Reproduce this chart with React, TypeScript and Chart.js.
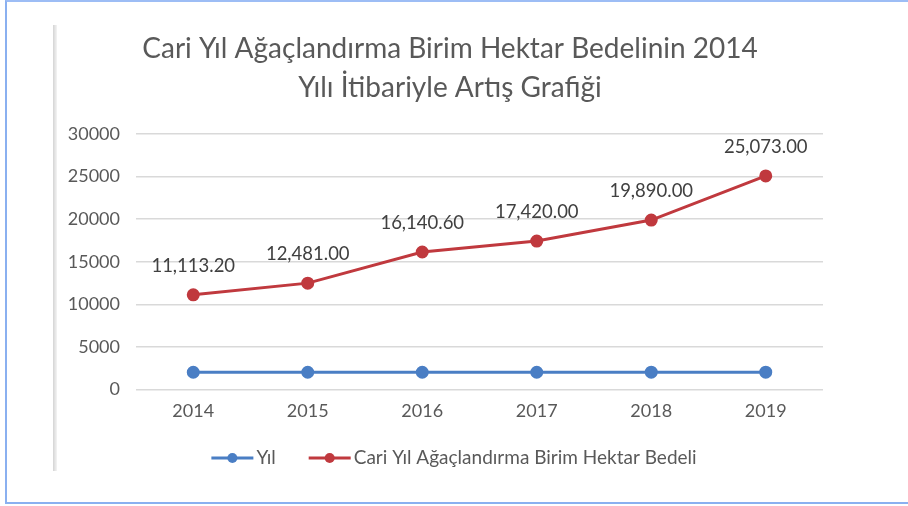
import React, { useEffect, useRef } from 'react';
import { Chart, registerables } from 'chart.js';

Chart.register(...registerables);

const years = ['2014', '2015', '2016', '2017', '2018', '2019'];
const yilValues = [2014, 2015, 2016, 2017, 2018, 2019];
const bedelValues = [11113.2, 12481.0, 16140.6, 17420.0, 19890.0, 25073.0];
const yMin = 0;
const yMax = 30000;
const yStep = 5000;
const titleLines = ['Cari Yıl Ağaçlandırma Birim Hektar Bedelinin 2014', 'Yılı İtibariyle Artış Grafiği'];
const seriesNames = ['Yıl', 'Cari Yıl Ağaçlandırma Birim Hektar Bedeli'];
const seriesColors = ['#4A7EC4', '#C0393E'];

const FONT = 'Lato, "Liberation Sans", sans-serif';
const TEXT = '#595959';

const fmt = (v: number) =>
  v.toLocaleString('en-US', { minimumFractionDigits: 2, maximumFractionDigits: 2 });

const titlePlugin = {
  id: 'customTitle',
  afterDraw(chart: any) {
    const ctx = chart.ctx;
    ctx.save();
    ctx.font = `28px ${FONT}`;
    ctx.fillStyle = TEXT;
    ctx.textAlign = 'center';
    ctx.textBaseline = 'middle';
    const cx = 450;
    titleLines.forEach((t, i) => ctx.fillText(t, cx, 49 + i * 39));
    ctx.restore();
  },
};

const dataLabelPlugin = {
  id: 'dataLabels',
  afterDatasetsDraw(chart: any) {
    const ctx = chart.ctx;
    const meta = chart.getDatasetMeta(1);
    ctx.save();
    ctx.font = `18.5px ${FONT}`;
    ctx.fillStyle = '#404040';
    ctx.textAlign = 'center';
    ctx.textBaseline = 'middle';
    meta.data.forEach((pt: any, i: number) => {
      ctx.fillText(fmt(bedelValues[i]), pt.x, pt.y - 29);
    });
    ctx.restore();
  },
};

const legendPlugin = {
  id: 'customLegend',
  afterDraw(chart: any) {
    const ctx = chart.ctx;
    ctx.save();
    ctx.font = `19px ${FONT}`;
    const lineW = 42;
    const gapText = 3;
    const gapItem = 33;
    const widths = seriesNames.map((n) => lineW + gapText + ctx.measureText(n).width);
    const total = widths.reduce((a, b) => a + b, 0) + gapItem * (seriesNames.length - 1);
    let x = chart.width / 2 - total / 2;
    const y = 458;
    seriesNames.forEach((n, i) => {
      ctx.strokeStyle = seriesColors[i];
      ctx.lineWidth = 3;
      ctx.beginPath();
      ctx.moveTo(x, y);
      ctx.lineTo(x + lineW, y);
      ctx.stroke();
      ctx.fillStyle = seriesColors[i];
      ctx.beginPath();
      ctx.arc(x + lineW / 2, y, 5, 0, Math.PI * 2);
      ctx.fill();
      ctx.fillStyle = TEXT;
      ctx.textAlign = 'left';
      ctx.textBaseline = 'middle';
      ctx.fillText(n, x + lineW + gapText, y);
      x += widths[i] + gapItem;
    });
    ctx.restore();
  },
};

function ChartView() {
  const ref = useRef<HTMLCanvasElement | null>(null);
  useEffect(() => {
    if (!ref.current) return;
    const chart = new Chart(ref.current, {
      type: 'line',
      data: {
        labels: years,
        datasets: [
          {
            label: seriesNames[0],
            data: yilValues,
            borderColor: seriesColors[0],
            backgroundColor: seriesColors[0],
            borderWidth: 3,
            pointRadius: 5,
            pointBackgroundColor: seriesColors[0],
            pointBorderColor: seriesColors[0],
            tension: 0,
          },
          {
            label: seriesNames[1],
            data: bedelValues,
            borderColor: seriesColors[1],
            backgroundColor: seriesColors[1],
            borderWidth: 3,
            pointRadius: 5,
            pointBackgroundColor: seriesColors[1],
            pointBorderColor: seriesColors[1],
            tension: 0,
          },
        ],
      },
      options: {
        animation: false,
        responsive: false,
        maintainAspectRatio: false,
        layout: { padding: { left: 0, right: 85, top: 134, bottom: 73 } },
        plugins: {
          legend: { display: false },
          tooltip: { enabled: false },
          title: { display: false },
        },
        scales: {
          x: {
            offset: true,
            grid: { display: false, drawTicks: false },
            border: { display: false },
            ticks: { color: TEXT, font: { family: FONT, size: 18 }, padding: 11 },
          },
          y: {
            min: yMin,
            max: yMax,
            grid: { color: '#D9D9D9', lineWidth: 1.5, drawTicks: false },
            border: { display: false },
            afterFit: (scale: any) => {
              scale.width = 136;
            },
            ticks: {
              stepSize: yStep,
              color: TEXT,
              font: { family: FONT, size: 18 },
              padding: 16,
              callback: (v: any) => String(v),
            },
          },
        },
      },
      plugins: [dataLabelPlugin, legendPlugin, titlePlugin],
    });
    return () => chart.destroy();
  }, []);
  return <canvas ref={ref} width={908} height={506} style={{ position: 'absolute', left: 0, top: 0 }} />;
}

export default function App() {
  return (
    <div style={{ position: 'fixed', left: 0, top: 0, width: 908, height: 506, background: '#fff', overflow: 'hidden' }}>
      <div
        style={{
          position: 'absolute',
          left: 5,
          top: 0,
          width: 920,
          height: 500,
          borderTop: '2px solid #9DBDF5',
          borderLeft: '2px solid #8AB0F0',
          borderBottom: '2px solid #8AB0F0',
        }}
      />
      <div
        style={{
          position: 'absolute',
          left: 53,
          top: 25,
          width: 4,
          height: 446,
          background: 'linear-gradient(to right, #d4d4d4, #f4f4f4)',
        }}
      />
      <ChartView />
    </div>
  );
}
